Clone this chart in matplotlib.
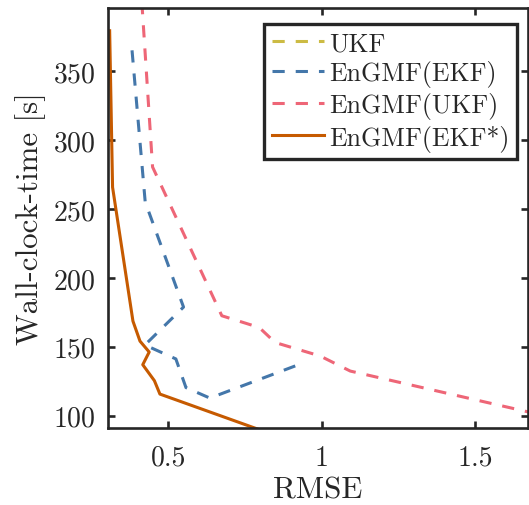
"""
Wall-clock time versus RMSE
===========================

EnGMF variants compared against the UKF
"""

# %%
# Imports
import numpy as np
import matplotlib
matplotlib.use("Agg")
import matplotlib.pyplot as plt
from matplotlib.ticker import FuncFormatter

plt.rcParams["font.family"] = "serif"
plt.rcParams["font.serif"] = ["cmr10"]
plt.rcParams["mathtext.fontset"] = "cm"
plt.rcParams["axes.formatter.use_mathtext"] = True

# %%
# Values

# UKF has no point inside the shown limits, only a legend entry
rmse_ukf = []
time_ukf = []

rmse_engmf_ekf = [0.381, 0.424, 0.549, 0.423, 0.524, 0.557, 0.635, 0.930]
time_engmf_ekf = [365.0, 255.0, 178.8, 151.3, 141.2, 120.4, 112.8, 137.5]

rmse_engmf_ukf = [0.413, 0.448, 0.674, 0.796, 0.848, 0.995, 1.093, 1.675]
time_engmf_ukf = [400.0, 280.4, 172.5, 164.0, 153.1, 143.3, 132.4, 102.7]

rmse_engmf_ekf_star = [0.308, 0.3175, 0.384, 0.407, 0.437, 0.416, 0.454, 0.472, 0.80]
time_engmf_ekf_star = [379.2, 265.7, 168.6, 154.1, 146.2, 137.0, 125.4, 115.7, 89.6]

x_ticks = [0.5, 1, 1.5]
y_ticks = [100, 150, 200, 250, 300, 350]

# %%
# Plot
fig = plt.figure(figsize=(5.29, 5.06), dpi=100)
ax = fig.add_axes([108 / 529, 77 / 506, 420 / 529, 420 / 506])

dash = (4.0, 3.6)
lw = 2.2
ax.plot(rmse_ukf, time_ukf, color="#ccbb44", lw=lw, dashes=dash, label="UKF")
ax.plot(rmse_engmf_ekf, time_engmf_ekf, color="#4477aa", lw=lw, dashes=dash,
        label="EnGMF(EKF)")
ax.plot(rmse_engmf_ukf, time_engmf_ukf, color="#ee6677", lw=lw, dashes=dash,
        label="EnGMF(UKF)")
ax.plot(rmse_engmf_ekf_star, time_engmf_ekf_star, color="#c65a00", lw=lw,
        label="EnGMF(EKF*)")

ax.set_xlim(0.3026, 1.673)
ax.set_ylim(91.1, 395.7)
ax.set_xticks(x_ticks)
ax.set_yticks(y_ticks)
ax.xaxis.set_major_formatter(FuncFormatter(lambda v, p: "%g" % v))

for s in ax.spines.values():
    s.set_linewidth(1.9)
    s.set_color("#262626")
ax.tick_params(direction="in", length=5, width=1.9, colors="#262626",
               top=True, right=True, labelsize=20, pad=9)
ax.tick_params(axis="x", pad=12)
for lab in ax.get_xticklabels() + ax.get_yticklabels():
    lab.set_color("#262626")

ax.set_xlabel("RMSE", fontsize=22.3, color="#262626", labelpad=3)
ax.set_ylabel("Wall-clock-time [s]", fontsize=22.3, color="#262626", labelpad=5)

leg = ax.legend(loc="upper right", bbox_to_anchor=(0.974, 0.963), fontsize=18.6,
                handlelength=2.0, handletextpad=0.2, labelspacing=0.2,
                borderpad=0.3, borderaxespad=0, fancybox=False, framealpha=1)
leg.get_frame().set_edgecolor("#262626")
leg.get_frame().set_linewidth(2.4)
for t in leg.get_texts():
    t.set_color("#262626")

fig.savefig("out.png", dpi=100)
